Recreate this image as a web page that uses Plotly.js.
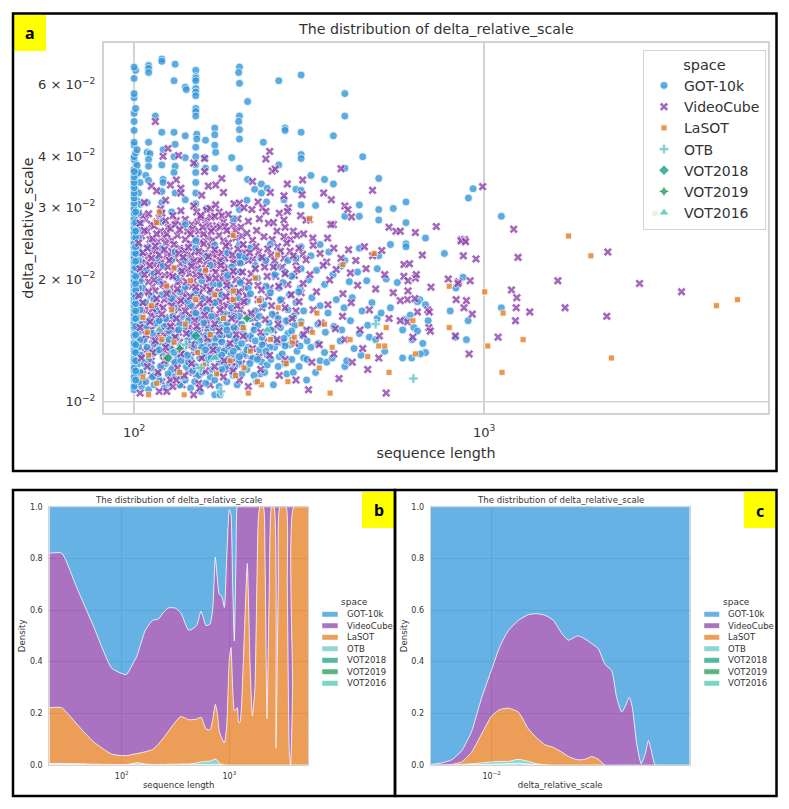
<!DOCTYPE html>
<html><head><meta charset="utf-8">
<script src="https://cdn.plot.ly/plotly-3.0.1.min.js"></script>
<style>html,body{margin:0;padding:0;background:#fff}</style></head>
<body><div id="chart" style="width:789px;height:809px"></div>
<script>
const spaces=['GOT-10k','VideoCube','LaSOT','OTB','VOT2018','VOT2019','VOT2016'];
const colors=['#3498db','#8e44ad','#e67e22','#68c8c8','#16a085','#239b56','#48c9b0'];
const symbols=['circle','x','square','cross','diamond','star-diamond','triangle-up'];
const titleText='The distribution of delta_relative_scale';

const gotPoints=[[100,.0107],[101,.0110],[100,.0113],[102,.0116],[100,.0119],[101,.0122],[100,.0125],[102,.0128],[100,.0131],[101,.0134],[100,.0137],[100,.0140],[102,.0143],[100,.0147],[101,.0150],[100,.0154],[100,.0158],[102,.0162],[100,.0166],[101,.0170],[100,.0174],[100,.0178],[102,.0182],[100,.0186],[101,.0191],[100,.0196],[100,.0201],[102,.0206],[100,.0211],[101,.0217],[100,.0223],[100,.0229],[102,.0235],[100,.0242],[101,.0249],[100,.0256],[100,.0263],[102,.0270],[100,.0278],[101,.0286],[100,.0294],[100,.0302],[102,.0311],[100,.0320],[101,.0330],[100,.0340],[100,.0350],[102,.0361],[100,.0372],[101,.0385],[100,.0393],[100,.0399],[100,.0426],[100,.0433],[100,.0463],[100,.0487],[100,.0510],[101,.0524],[100,.0557],[100,.0570],[100,.0621],[101,.0650],[100,.0662],
[110,.0668],[110,.0657],[110,.0642],[120,.0693],[120,.0684],[131,.0673],[130,.0613],[140,.0591],[141,.0583],[150,.0650],[150,.0627],[150,.0621],[150,.0613],[150,.0587],[150,.0575],[150,.0563],[150,.0524],[150,.0515],[150,.0502],[200,.0662],[199,.0642],[200,.0604],[211,.0545],[259,.0613],[300,.0633],[400,.0570],[400,.0502],[115,.0502],[120,.0458],[130,.0458],[140,.0449],[151,.0453],[151,.0441],[150,.0421],[150,.0399],[150,.0381],[150,.0365],[150,.0345],[150,.0325],[160,.0438],[170,.0469],[170,.0452],[170,.0426],[171,.0409],[170,.0374],[160,.0374],[159,.0397],[200,.0502],[199,.0487],[200,.0465],[200,.0441],[270,.0469],[270,.0463],[300,.0458],[234,.0433],[371,.0449],[300,.0404],[300,.0395],[450,.0399],[259,.0381],[200,.0374],[400,.0374],[190,.0397],[110,.0433],[109,.0409],[111,.0406],[110,.0393],[110,.0378],[108,.0359],[110,.0349],[120,.0381],[131,.0428],[130,.0399],[131,.0378],[130,.0365],[121,.0415],[121,.0351],[121,.0345],[131,.0325],[140,.0313],[140,.0397],[211,.0351],[221,.0332],[231,.0342],[231,.0325],[240,.0334],[239,.0309],[268,.0313],[290,.0332],[300,.0330],[300,.0304],[320,.0359],[350,.0351],[371,.0342],[330,.0303],[440,.0304],[500,.0353],[500,.0296],[550,.0298],[440,.0285],[500,.0279],[400,.0285],[200,.0296],[192,.0281],[210,.0312],[161,.0298],[150,.0306],[120,.0308],[109,.0308],[120,.0328],[120,.0293],[120,.0276],[128,.0292],[140,.0272],[598,.0309],[598,.0275],[680,.0252],[930,.0333],[902,.0316],[1120,.0285],
[598,.0244],[598,.0240],[770,.0231],[870,.0202],[830,.0190],[800,.0167],[900,.0158],[1120,.0170],[655,.0178],[645,.0176],[680,.0173],[692,.0158],[615,.0163],[592,.0159],[585,.0150],[630,.0152],[645,.0149],[828,.0144],[890,.0142],[622,.0142],[668,.0139],[680,.0132],[657,.0131],[621,.0128],[585,.0128],
[105,.0109],[110,.0107],[108,.0112],[114,.0110],[118,.0113],[122,.0108],[126,.0111],[130,.0115],[135,.0110],[140,.0113],[145,.0108],[149,.0112],[155,.0106],[160,.0111],[165,.0115],[170,.0104],[176,.0104],[175,.0109],[184,.0112],[192,.0116],[197,.0110],[250,.0110],[229,.0117],[232,.0125],[273,.0117],[285,.0118],[311,.0113],[340,.0126],[355,.0125],[400,.0122],
[106,.0118],[112,.0121],[117,.0117],[123,.0124],[128,.0120],[134,.0118],[141,.0122],[147,.0119],[153,.0116],[160,.0123],[167,.0120],[175,.0125],[183,.0122],[191,.0118],[199,.0125],[210,.0120],[220,.0116],[240,.0123],[260,.0129],
[105,.0130],[110,.0127],[116,.0133],[121,.0129],[127,.0135],[133,.0128],[139,.0131],[145,.0127],[151,.0134],[158,.0130],[165,.0136],[173,.0129],[181,.0133],[189,.0130],[197,.0136],[207,.0131],[218,.0128],[228,.0134],[240,.0130],[252,.0136],[265,.0131],[278,.0138],[292,.0133],[305,.0128],[320,.0136],[335,.0139],[350,.0132],[368,.0128],[388,.0141],[405,.0126],[425,.0135],[445,.0130],[470,.0144],[490,.0142],[520,.0133],
[107,.0142],[113,.0147],[119,.0140],[126,.0149],[132,.0143],[139,.0152],[146,.0145],[154,.0141],[162,.0148],[170,.0143],[178,.0152],[187,.0146],[196,.0141],[205,.0150],[215,.0145],[226,.0154],[238,.0148],[250,.0143],[262,.0152],[275,.0147],[288,.0154],[302,.0145],[318,.0150],[335,.0155],[352,.0148],[372,.0153],[392,.0150],[415,.0158],[440,.0147],[465,.0154],[495,.0160],
[104,.0162],[110,.0158],[116,.0167],[123,.0160],[130,.0170],[137,.0163],[145,.0172],[153,.0160],[161,.0168],[170,.0175],[180,.0164],[190,.0170],[200,.0162],[210,.0176],[222,.0167],[235,.0173],[248,.0164],[262,.0178],[275,.0168],[290,.0175],[305,.0167],[322,.0180],[340,.0172],[358,.0165],[378,.0178],[398,.0170],[420,.0180],[448,.0167],[478,.0175],[508,.0165],[540,.0170],
[106,.0190],[112,.0182],[118,.0197],[125,.0186],[132,.0201],[140,.0191],[148,.0183],[156,.0198],[165,.0186],[175,.0194],[185,.0204],[195,.0186],[201,.0196],[201,.0208],[201,.0219],[212,.0190],[225,.0201],[238,.0192],[252,.0205],[266,.0196],[282,.0203],[298,.0190],[300,.0212],[315,.0199],[332,.0210],[350,.0194],[370,.0205],[390,.0215],[412,.0197],[435,.0208],[462,.0198],[495,.0212],[525,.0200],[565,.0196],
[105,.0230],[110,.0240],[116,.0225],[120,.0238],[131,.0233],[140,.0222],[150,.0238],[150,.0248],[161,.0228],[170,.0242],[185,.0232],[200,.0243],[200,.0228],[215,.0238],[230,.0225],[245,.0243],[260,.0232],[275,.0222],[300,.0240],[320,.0228],[340,.0243],[360,.0233],[400,.0222],[440,.0238],[500,.0228],[540,.0243]];
const gotDensePoints=[[103,.0112],[104,.0118],[103,.0124],[104,.0130],[103,.0136],[104,.0142],[103,.0148],[104,.0155],[103,.0161],[104,.0168],[103,.0175],[104,.0183],[103,.0190],[104,.0198],[103,.0205],[104,.0214],[103,.0222],[104,.0232],[103,.0240],[103,.0252],[103,.0265],[104,.0275],[103,.0290],[104,.0305],[103,.0325],[104,.0345],[103,.0365],[102,.0380],[101,.0408],[102,.0415],
[107,.0124],[113,.0115],[119,.0122],[125,.0117],[131,.0125],[137,.0115],[143,.0125],[150,.0122],[157,.0118],[163,.0127],[170,.0113],[178,.0120],[186,.0127],[194,.0122],[203,.0117],[214,.0124],[224,.0112],[236,.0118],[246,.0127],[258,.0122],[270,.0124],[282,.0127],[296,.0122],[312,.0127],[330,.0118],
[109,.0136],[114,.0139],[124,.0138],[130,.0144],[136,.0137],[142,.0141],[149,.0139],[156,.0136],[163,.0142],[170,.0137],[178,.0140],[186,.0137],[195,.0143],[203,.0139],[212,.0136],[222,.0141],[232,.0138],[244,.0136],[256,.0140],[270,.0137],[283,.0142],[298,.0137],[312,.0141],
[108,.0152],[115,.0156],[122,.0153],[129,.0162],[135,.0155],[143,.0158],[150,.0165],[158,.0156],[166,.0162],[175,.0158],[184,.0156],[193,.0162],[203,.0155],[214,.0160],[228,.0162],[243,.0156],[258,.0160],[272,.0158],[286,.0162],[300,.0157],
[108,.0175],[114,.0178],[120,.0183],[128,.0179],[135,.0186],[142,.0177],[150,.0187],[158,.0179],[168,.0194],[178,.0183],[188,.0191],[198,.0180],[215,.0184],[230,.0178],[245,.0185],[260,.0190],[278,.0183],[295,.0186],
[108,.0210],[114,.0206],[121,.0215],[128,.0222],[136,.0210],[145,.0218],[155,.0208],[165,.0216],[178,.0220],[190,.0214],[208,.0226],[222,.0216],[238,.0222],[255,.0215],[270,.0208],[290,.0225],
[112,.0131],[118,.0134],[124,.0127],[130,.0132],[136,.0126],[142,.0130],[148,.0136],[154,.0128],[160,.0134],[166,.0128],[172,.0134],[178,.0130],[185,.0127],[192,.0133],[200,.0129],[210,.0134],[225,.0127],[238,.0133],[118,.0158],[126,.0142],[134,.0150],[144,.0147],[152,.0150],[160,.0145],[168,.0152],[176,.0146],[184,.0150],[193,.0152],[208,.0145],[220,.0150],[232,.0144],[246,.0150],[268,.0143],[282,.0149]];
const gotColumnPoints=[[100,.0109],[100,.0115],[100,.0121],[100,.0127],[100,.0133],[100,.0139],[100,.0145],[100,.0152],[100,.0156],[100,.0160],[100,.0164],[100,.0168],[100,.0172],[100,.0176],[100,.0180],[100,.0184],[100,.0189],[100,.0193],[100,.0198],[100,.0204],[100,.0209],[100,.0214],[100,.0220],[100,.0226],[100,.0232],[100,.0239],[100,.0246],[100,.0253],[100,.0260],[100,.0267],[100,.0274],[100,.0282],[100,.0290],[100,.0298],[100,.0307],[100,.0316],[100,.0325],[100,.0335],[100,.0345],[100,.0356],[100,.0367],[101,.0113],[101,.0119],[101,.0126],[101,.0132],[101,.0138],[101,.0146],[101,.0153],[101,.0160],[101,.0167],[101,.0174],[101,.0181],[101,.0188],[101,.0195],[101,.0203],[101,.0213],[101,.0221],[101,.0231],[101,.0240],[101,.0253],[101,.0262],[101,.0275],[101,.0292]];

const videoCubePoints=[[115,.0487],[125,.0418],[121,.0400],[134,.0402],[148,.0385],[159,.0395],[159,.0367],[244,.0411],[238,.0394],[248,.0368],[253,.0372],[390,.0373],[303,.0350],[274,.0342],[480,.0330],[178,.0353],[171,.0340],[163,.0338],[180,.0326],[218,.0347],[245,.0326],[268,.0320],[302,.0322],[348,.0325],[366,.0313],[132,.0350],[127,.0340],[136,.0334],[136,.0325],[112,.0338],[116,.0329],[107,.0308],[123,.0312],[156,.0321],[193,.0306],[200,.0307],[206,.0299],[226,.0309],[217,.0296],[233,.0299],[238,.0293],[276,.0299],[274,.0293],[260,.0290],[299,.0286],[317,.0280],[310,.0279],[400,.0302],[408,.0296],[418,.0284],[371,.0272],[365,.0272],[535,.0268],[560,.0262],[268,.0279],[270,.0268],[242,.0274],[250,.0275],[136,.0294],[119,.0297],[120,.0290],[110,.0289],[161,.0295],[165,.0298],[171,.0304],[175,.0292],[178,.0286],[166,.0283],[155,.0283],[148,.0302],[151,.0292],[155,.0286],[186,.0288],[170,.0285],[129,.0286],[131,.0272],[123,.0278],[114,.0270],[104,.0274],[107,.0263],[116,.0258],[135,.0264],[145,.0258],[157,.0268],[166,.0262],[184,.0263],[210,.0259],[224,.0263],[305,.0258],[324,.0252],[357,.0252],
[990,.0337],[1215,.0265],[730,.0269],[636,.0260],[576,.0262],[860,.0250],[880,.0250],[860,.0248],[885,.0247],[666,.0229],[872,.0228],[948,.0224],[1250,.0226],[2256,.0233],[590,.0217],[612,.0218],[590,.0203],[636,.0201],[640,.0205],[606,.0198],[705,.0191],[790,.0200],[845,.0197],[842,.0195],[912,.0198],[606,.0187],[1197,.0188],[1624,.0198],[2780,.0195],[3664,.0186],[1240,.0180],[832,.0178],[890,.0177],[604,.0178],[576,.0177],[634,.0179],[876,.0170],[1235,.0170],[1350,.0166],[1703,.0170],[925,.0164],[2241,.0162],[645,.0166],[690,.0168],[697,.0166],[1229,.0158],[604,.0157],[576,.0158],[695,.0152],[702,.0149],[1096,.0144],[828,.0145],[626,.0144],[906,.0131],
[103,.0245],[106,.0232],[109,.0238],[112,.0225],[115,.0241],[118,.0229],[122,.0236],[126,.0222],[130,.0243],[134,.0231],[138,.0226],[143,.0239],[148,.0221],[153,.0234],[158,.0244],[163,.0227],[170,.0236],[176,.0222],[183,.0241],[191,.0229],[198,.0237],
[104,.0212],[107,.0205],[111,.0216],[114,.0199],[117,.0208],[121,.0194],[125,.0214],[129,.0203],[133,.0189],[137,.0209],[141,.0197],[146,.0215],[150,.0191],[155,.0204],[160,.0212],[165,.0188],[171,.0201],[177,.0216],[184,.0193],[192,.0209],[199,.0186],
[103,.0182],[106,.0175],[110,.0186],[113,.0169],[116,.0179],[120,.0164],[124,.0184],[128,.0172],[132,.0160],[136,.0177],[140,.0167],[145,.0181],[149,.0158],[154,.0174],[159,.0163],[164,.0178],[170,.0155],[176,.0168],[183,.0181],[190,.0160],[197,.0172],
[104,.0152],[108,.0146],[111,.0157],[115,.0141],[119,.0149],[123,.0136],[127,.0153],[131,.0144],[136,.0131],[141,.0147],[146,.0138],[151,.0153],[156,.0128],[162,.0143],[168,.0134],[175,.0149],[181,.0126],[188,.0139],[196,.0146],
[105,.0128],[109,.0122],[113,.0132],[117,.0118],[122,.0126],[127,.0113],[133,.0121],[139,.0116],[146,.0124],[153,.0111],[160,.0119],[170,.0122],[180,.0115],[190,.0125],
[104,.0105],[118,.0106],[124,.0106],[129,.0109],[132,.0113],[148,.0104],[154,.0108],[192,.0119],[200,.0113],[212,.0109],[315,.0107],[385,.0114],[465,.0120],[525,.0105],
[205,.0243],[214,.0232],[223,.0240],[232,.0226],[241,.0237],[252,.0222],[262,.0234],[273,.0245],[285,.0228],[296,.0238],[310,.0223],[325,.0242],[340,.0231],[355,.0220],[372,.0238],[390,.0225],[410,.0236],[430,.0222],[455,.0240],[480,.0228],[510,.0235],
[204,.0208],[213,.0197],[222,.0212],[231,.0188],[240,.0203],[250,.0214],[259,.0192],[270,.0206],[281,.0183],[292,.0211],[304,.0195],[318,.0205],[332,.0186],[347,.0216],[362,.0199],[378,.0211],[395,.0184],[415,.0207],[435,.0193],[460,.0212],[490,.0189],[520,.0205],[550,.0185],
[206,.0176],[216,.0165],[226,.0178],[237,.0159],[247,.0172],[258,.0155],[270,.0170],[283,.0160],[296,.0176],[311,.0150],[325,.0168],[342,.0156],[358,.0173],[376,.0151],[394,.0162],[417,.0175],[442,.0150],[470,.0168],[502,.0145],[535,.0160],
[205,.0145],[218,.0135],[230,.0148],[244,.0130],[256,.0142],[270,.0127],[288,.0139],[305,.0146],[322,.0125],[338,.0138],[372,.0131],[400,.0142],[420,.0125],[450,.0135],[500,.0128],[230,.0120],[260,.0116],[290,.0113]];
const videoCubeDensePoints=[[103,.0290],[108,.0280],[112,.0272],[118,.0283],[125,.0268],[140,.0280],[146,.0272],[152,.0276],[160,.0279],[172,.0270],[180,.0276],[192,.0272],[198,.0281],[212,.0277],[228,.0281],[256,.0262],[285,.0262],
[105,.0255],[111,.0250],[117,.0247],[122,.0253],[128,.0249],[133,.0256],[140,.0250],[150,.0251],[155,.0247],[162,.0253],[168,.0249],[175,.0256],[180,.0248],[195,.0252],[203,.0255],[218,.0249],[235,.0254],[248,.0250],[268,.0254],[280,.0250],[292,.0256],
[104,.0228],[108,.0219],[113,.0234],[120,.0221],[124,.0229],[128,.0234],[136,.0218],[141,.0230],[146,.0228],[151,.0219],[156,.0227],[166,.0221],[173,.0229],[180,.0219],[187,.0235],[194,.0222],[202,.0220],[210,.0238],[219,.0224],[227,.0233],[236,.0220],[246,.0229],[257,.0240],[268,.0225],[279,.0234],[290,.0220],[303,.0230],
[105,.0200],[109,.0210],[113,.0192],[118,.0215],[122,.0204],[127,.0190],[131,.0212],[135,.0198],[139,.0188],[144,.0206],[148,.0198],[152,.0212],[157,.0190],[162,.0202],[168,.0212],[174,.0195],[180,.0207],[187,.0186],[195,.0199],[207,.0190],[216,.0206],[226,.0193],[236,.0214],[245,.0190],[254,.0203],[265,.0214],[275,.0194],[287,.0204],[300,.0185],
[104,.0172],[108,.0167],[111,.0180],[115,.0162],[118,.0172],[122,.0178],[126,.0161],[130,.0179],[134,.0169],[138,.0184],[143,.0163],[147,.0174],[152,.0183],[157,.0167],[162,.0176],[167,.0160],[173,.0180],[179,.0170],[186,.0164],[193,.0177],[201,.0168],[211,.0180],[221,.0160],[232,.0170],[242,.0181],[253,.0163],[264,.0177],[276,.0157],[290,.0167],
[106,.0155],[110,.0150],[113,.0142],[117,.0155],[121,.0146],[125,.0140],[129,.0156],[134,.0148],[138,.0155],[143,.0141],[148,.0150],[154,.0144],[159,.0154],[166,.0140],[172,.0152],[178,.0143],[185,.0153],[192,.0142],[200,.0152],[212,.0143],[222,.0153],[235,.0140],[250,.0150],[265,.0140],
[107,.0133],[112,.0126],[116,.0135],[120,.0122],[125,.0131],[130,.0124],[135,.0136],[141,.0127],[148,.0133],[155,.0120],[163,.0131],[170,.0137],[177,.0128],[185,.0134],[194,.0129],[203,.0124],[215,.0127],[228,.0129],
[106,.0112],[112,.0116],[120,.0112],[128,.0118],[137,.0110],[143,.0118],[151,.0117],[165,.0110],[175,.0118],[186,.0120],
[106,.0286],[109,.0262],[113,.0251],[116,.0276],[119,.0262],[124,.0258],[127,.0266],[132,.0278],[137,.0270],[142,.0262],[147,.0265],[153,.0262],[158,.0258],[163,.0270],[169,.0266],[176,.0268],[182,.0269],[189,.0258],[195,.0263],[202,.0268],
[105,.0219],[110,.0228],[114,.0217],[116,.0235],[119,.0218],[123,.0245],[127,.0228],[131,.0225],[135,.0238],[139,.0235],[142,.0220],[145,.0244],[149,.0233],[154,.0222],[159,.0232],[161,.0220],[165,.0241],[168,.0230],[172,.0219],[178,.0232],[182,.0225],[186,.0245],[192,.0219],[199,.0228],[206,.0232],[212,.0222],
[104,.0192],[107,.0185],[110,.0197],[112,.0207],[115,.0187],[119,.0200],[123,.0192],[126,.0205],[129,.0184],[133,.0196],[136,.0206],[140,.0182],[142,.0212],[146,.0192],[150,.0205],[154,.0185],[158,.0208],[161,.0192],[164,.0200],[168,.0184],[171,.0208],[175,.0186],[178,.0200],[182,.0212],[185,.0198],[189,.0205],[193,.0190],[198,.0208],[203,.0198],[209,.0182],
[105,.0165],[107,.0158],[110,.0172],[112,.0163],[115,.0172],[118,.0160],[121,.0170],[124,.0156],[127,.0176],[130,.0164],[133,.0174],[136,.0158],[139,.0175],[142,.0172],[145,.0162],[148,.0168],[151,.0163],[155,.0180],[158,.0172],[161,.0158],[165,.0168],[168,.0175],[172,.0162],[176,.0176],[180,.0161],[184,.0172],[188,.0178],[192,.0165],[197,.0158],[203,.0175],[210,.0163],
[106,.0140],[109,.0134],[112,.0150],[114,.0136],[117,.0146],[121,.0132],[124,.0147],[128,.0137],[131,.0150],[135,.0140],[139,.0134],[143,.0152],[147,.0144],[150,.0132],[154,.0148],[158,.0137],[162,.0152],[166,.0146],[170,.0130],[174,.0142],[178,.0134],[183,.0146],[188,.0130],[193,.0150],[198,.0136],[205,.0130]];

const lasotPoints=[[1742,.0255],[2018,.0228],[795,.0192],[1004,.0186],[1133,.0165],[626,.0158],[795,.0152],[1024,.0137],[1292,.0142],[2311,.0128],[1125,.0118],[4610,.0172],[5295,.0178],[636,.0131],[3080,.0289],
[110,.0104],[139,.0104],[212,.0105],[231,.0110],[275,.0112],[363,.0105],[206,.0121],[272,.0124],[535,.0118],[465,.0129],[500,.0137],[520,.0137],[283,.0140],[287,.0144],[368,.0136],[323,.0148],[350,.0155],[333,.0165],[525,.0152],[395,.0217],[485,.0231],[257,.0229],[130,.0213],[228,.0177],[222,.0201],[192,.0187],[192,.0178],[170,.0183],[317,.0281],[192,.0256],[116,.0275],[118,.0292],[414,.0142],
[106,.0161],[109,.0148],[116,.0111],[123,.0128],[124,.0192],[112,.0172],[120,.0142],[128,.0168],[135,.0118],[140,.0155],[145,.0198],[152,.0132],[158,.0123],[165,.0146],[172,.0117],[180,.0160],[188,.0126],[110,.0130],[106,.0115],[130,.0140],[150,.0178],[160,.0210],[205,.0152],[215,.0133],[245,.0142],[258,.0170],[300,.0155],[338,.0121],[195,.0116],[225,.0112]];
const otbPoints=[[628,.0114],[141,.0138],[155,.0121],[177,.0106],[490,.0155]];
const vot2018Points=[[150,.0145],[125,.0128]];
const vot2019Points=[[135,.0135],[210,.0160]];
const vot2016Points=[[170,.0128],[240,.0150],[118,.0150]];
const scatterSets=[gotPoints.concat(gotDensePoints,gotColumnPoints),videoCubePoints,lasotPoints,otbPoints,vot2018Points,vot2019Points,vot2016Points];
const markerSizes=[8,8,6,8,8,8,9];

// Panel b: sequence length vs upper edge of each stacked band
const bLength=[21.3,27.7,38.2,54.6,80.8,110,128,138,165,194,219,244,271,313,353,387,416,437,497,546,607,661,700,741,774,807,849,899,945,1000,1036,1074,1113,1153,1186,1221,1256,1349,1469,1555,1637,1730,1858,1926,2068,2145,2239,2353,2473,2600,2712,2850,2955,3360,3456,3609,3713,3873,3988,5380];
const bVideoCube=[.82,.82,.687,.538,.375,.35,.395,.42,.52,.56,.565,.59,.608,.608,.59,.55,.523,.523,.54,.595,.54,.545,.6,.805,.72,.66,.655,.61,.8,.99,.97,.7,.48,.8,1,1,1,1,1,1,1,1,1,1,1,1,1,1,1,1,1,1,1,1,1,1,1,1,1,1];
const bLaSOT=[.222,.222,.159,.09,.042,.036,.042,.044,.051,.06,.08,.105,.13,.165,.188,.182,.176,.175,.178,.185,.14,.135,.175,.235,.2,.13,.105,.085,.15,.41,.455,.3,.21,.215,.222,.165,.165,.4,.78,.4,.19,.3,.95,1,1,.8,.18,.7,1,1,.065,.7,1,1,.7,.05,0,.3,1,1];
const bOTB=[.006,.006,.005,.003,.002,.002,.006,.009,.004,.002,.002,.002,.003,.003,.004,.004,.004,.005,.008,.012,.014,.015,.019,.023,.018,.008,.003,.001,0,0,0,0,0,0,0,0,0,0,0,0,0,0,0,0,0,0,0,0,0,0,0,0,0,0,0,0,0,0,0,0];
const bVotLength=[21.3,100,138,741,1000,5380];
const bVOT2018=[.003,.001,.003,.002,0,0];
const bVOT2019=[.002,.0007,.002,.001,0,0];
const bVOT2016=[.001,.0004,.001,.0005,0,0];
const bGotLength=[21.3,5380];
const bGOT=[1,1];

// Panel c: delta_relative_scale vs upper edge of each stacked band
const cDelta=[.00507,.00573,.0064,.00716,.008,.00894,.01,.01097,.01204,.01346,.01504,.01651,.01812,.01988,.02182,.0235,.02606,.02829,.03051,.03281,.03532,.0381,.04027,.04257,.04416,.04634,.04797,.05035,.05286,.05521,.05731,.05902,.06166,.0665,.09078];
const cVideoCube=[.002,.008,.02,.055,.13,.26,.37,.46,.52,.56,.582,.586,.58,.56,.51,.483,.5,.488,.47,.45,.39,.365,.26,.205,.225,.263,.22,.08,.005,.04,.095,.06,.002,0,0];
const cLaSOT=[0,.001,.002,.012,.05,.12,.19,.215,.22,.205,.14,.105,.078,.068,.05,.033,.02,.022,.033,.022,0,0,0,0,0,0,0,0,0,0,0,0,0,0,0];
const cOTB=[0,0,0,.002,.005,.008,.012,.014,.014,.022,.014,.005,.001,0,0,0,0,0,0,0,0,0,0,0,0,0,0,0,0,0,0,0,0,0,0];
const cVotDelta=[.00507,.00894,.01346,.01651,.09078];
const cVOT2018=[0,.0015,.007,.0015,0];
const cVOT2019=[0,.0012,.005,.0012,0];
const cVOT2016=[0,.001,.004,.001,0];
const cGotDelta=[.00507,.09078];
const cGOT=[1,1];

const W=789,H=809;
const fx=p=>p/W, fy=p=>1-p/H;
const ink='#333333', font='DejaVu Sans';
const alpha=['rgba(52,152,219,.75)','rgba(142,68,173,.75)','rgba(230,126,34,.75)','rgba(104,200,200,.75)','rgba(22,160,133,.75)','rgba(35,155,86,.75)','rgba(72,201,176,.75)'];

const markerOf=i=>({color:colors[i],symbol:symbols[i],size:markerSizes[i],opacity:.8,line:{color:'#fff',width:.8}});
// The dense part of VideoCube is drawn under GOT-10k, so both stay visible as in the reference
const traces=[{type:'scatter',mode:'markers',name:spaces[1],x:videoCubeDensePoints.map(p=>p[0]),y:videoCubeDensePoints.map(p=>p[1]),
  xaxis:'x',yaxis:'y',showlegend:false,marker:markerOf(1)}];
scatterSets.forEach((pts,i)=>traces.push({type:'scatter',mode:'markers',name:spaces[i],
  x:pts.map(p=>p[0]),y:pts.map(p=>p[1]),xaxis:'x',yaxis:'y',legend:'legend',marker:markerOf(i)}));

function stack(ax,ay,rows){ // rows bottom to top
  rows.forEach((r,k)=>traces.push({type:'scatter',mode:'lines',name:spaces[r[2]],x:r[0],y:r[1],showlegend:false,
    xaxis:ax,yaxis:ay,fill:k?'tonexty':'tozeroy',fillcolor:alpha[r[2]],
    line:{color:'rgba(255,255,255,.75)',width:1,shape:r[0].length>6?'spline':'linear',smoothing:.5}}));
}
stack('x2','y2',[[bVotLength,bVOT2016,6],[bVotLength,bVOT2019,5],[bVotLength,bVOT2018,4],[bLength,bOTB,3],[bLength,bLaSOT,2],[bLength,bVideoCube,1],[bGotLength,bGOT,0]]);
stack('x3','y3',[[cVotDelta,cVOT2016,6],[cVotDelta,cVOT2019,5],[cVotDelta,cVOT2018,4],[cDelta,cOTB,3],[cDelta,cLaSOT,2],[cDelta,cVideoCube,1],[cGotDelta,cGOT,0]]);

const smallFont={family:font,size:8.6,color:ink};
const smallAxis={showline:true,linecolor:'#d3d3d3',linewidth:1,mirror:true,ticks:'',gridcolor:'#cfcfcf',gridwidth:1,zeroline:false,
  tickfont:{family:font,size:8,color:ink}};
const yDensity={range:[0,1],tickvals:[0,.2,.4,.6,.8,1],ticktext:['0.0','0.2','0.4','0.6','0.8','1.0'],ticklabelstandoff:4,
  domain:[fy(765),fy(506.7)],title:{text:'Density',standoff:2,font:smallFont}};

const shapes=[
  {type:'line',xref:'paper',yref:'y',x0:fx(104),x1:fx(768),y0:.01,y1:.01,layer:'below',line:{color:'#d3d3d3',width:1.5}},
  {type:'rect',xref:'paper',yref:'paper',x0:fx(14),x1:fx(46),y0:fy(51),y1:fy(15),fillcolor:'#ffff00',line:{width:0}},
  {type:'rect',xref:'paper',yref:'paper',x0:fx(362),x1:fx(394),y0:fy(528),y1:fy(492),fillcolor:'#ffff00',line:{width:0}},
  {type:'rect',xref:'paper',yref:'paper',x0:fx(744),x1:fx(775),y0:fy(528),y1:fy(492),fillcolor:'#ffff00',line:{width:0}},
  {type:'rect',xref:'paper',yref:'paper',x0:fx(13),x1:fx(776.5),y0:fy(471),y1:fy(13.5),line:{color:'#000',width:2.5}},
  {type:'rect',xref:'paper',yref:'paper',x0:fx(13),x1:fx(395),y0:fy(796),y1:fy(490),line:{color:'#000',width:2.5}},
  {type:'rect',xref:'paper',yref:'paper',x0:fx(395),x1:fx(776.5),y0:fy(796),y1:fy(490),line:{color:'#000',width:2.5}}
];
const annotate=(x,y,text,f,xanchor)=>({xref:'paper',yref:'paper',x:fx(x),y:fy(y),text,showarrow:false,xanchor:xanchor||'center',yanchor:'middle',font:f});
const boldFont={family:'Noto Sans',size:16,color:'#000'};
const annotations=[
  annotate(436,29,titleText,{family:font,size:14.2,color:ink}),
  annotate(178.7,499.5,titleText,smallFont),
  annotate(560.5,499.5,titleText,smallFont),
  annotate(29.5,33,'<b>a</b>',boldFont),
  annotate(378.5,510,'<b>b</b>',boldFont),
  annotate(760,511,'<b>c</b>',boldFont)
];
// compact legends of panels b and c (rows are 11.5 px apart)
const rowY=[614.3,625.7,637.3,648.7,660.3,671.7,683.3];
[[322,338,345,354],[704,719.5,726,736]].forEach(g=>{
  annotations.push(annotate(g[3],602.3,'space',{family:font,size:9,color:ink}));
  spaces.forEach((s,i)=>{
    shapes.push({type:'rect',xref:'paper',yref:'paper',x0:fx(g[0]),x1:fx(g[1]),y0:fy(rowY[i]+2.7),y1:fy(rowY[i]-2.7),fillcolor:alpha[i],line:{color:'#fff',width:.5}});
    annotations.push(annotate(g[2],rowY[i],s,{family:font,size:8.5,color:ink},'left'));
  });
});

const layout={width:W,height:H,margin:{l:0,r:0,t:0,b:0,autoexpand:false},paper_bgcolor:'#fff',plot_bgcolor:'#fff',showlegend:true,
  xaxis:{type:'log',domain:[fx(104),fx(768)],range:[1.914,3.811],anchor:'y',tickvals:[100,1000],ticktext:['10<sup>2</sup>','10<sup>3</sup>'],
    showline:true,linecolor:'#d3d3d3',linewidth:2,mirror:true,ticks:'',gridcolor:'#d3d3d3',gridwidth:1.5,zeroline:false,ticklabelstandoff:6,
    tickfont:{family:font,size:13,color:ink},title:{text:'sequence length',standoff:9,font:{family:font,size:14.3,color:ink}}},
  yaxis:{type:'log',domain:[fy(413),fy(43)],range:[-2.0277,-1.12],anchor:'x',ticklabelstandoff:4,
    tickvals:[.01,.02,.03,.04,.06],ticktext:['10<sup>\u22122</sup>','2 \u00d7 10<sup>\u22122</sup>','3 \u00d7 10<sup>\u22122</sup>','4 \u00d7 10<sup>\u22122</sup>','6 \u00d7 10<sup>\u22122</sup>'],
    showline:true,linecolor:'#d3d3d3',linewidth:2,mirror:true,ticks:'',showgrid:false,zeroline:false,
    tickfont:{family:font,size:13,color:ink},title:{text:'delta_relative_scale',standoff:1,font:{family:font,size:14.3,color:ink}}},
  xaxis2:Object.assign({},smallAxis,{type:'log',domain:[fx(49.3),fx(308)],range:[1.327,3.731],anchor:'y2',tickvals:[100,1000],ticktext:['10<sup>2</sup>','10<sup>3</sup>'],ticklabelstandoff:3,
    title:{text:'sequence length',standoff:2,font:smallFont}}),
  yaxis2:Object.assign({},smallAxis,yDensity,{anchor:'x2'}),
  xaxis3:Object.assign({},smallAxis,{type:'log',domain:[fx(430.7),fx(689.7)],range:[-2.295,-1.042],anchor:'y3',tickvals:[.01],ticktext:['10<sup>\u22122</sup>'],ticklabelstandoff:3,
    title:{text:'delta_relative_scale',standoff:2,font:smallFont}}),
  yaxis3:Object.assign({},smallAxis,yDensity,{anchor:'x3'}),
  legend:{x:fx(643),y:fy(50),xanchor:'left',yanchor:'top',bgcolor:'rgba(255,255,255,.8)',bordercolor:'#d3d3d3',borderwidth:1,traceorder:'normal',
    font:{family:font,size:14,color:ink},title:{text:'space',side:'top center',font:{family:font,size:14.5,color:ink}},itemsizing:'trace',tracegroupgap:0},
  shapes,annotations
};
Plotly.newPlot('chart',traces,layout,{displayModeBar:false,staticPlot:true});
</script></body></html>
